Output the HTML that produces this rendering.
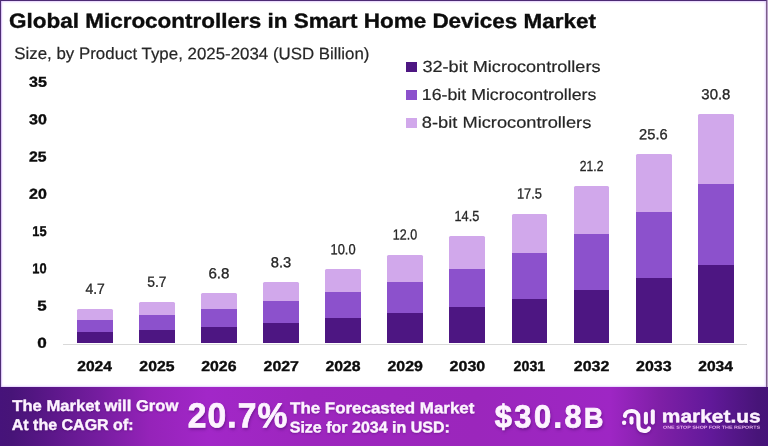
<!DOCTYPE html>
<html lang="en">
<head>
<meta charset="utf-8">
<title>Global Microcontrollers in Smart Home Devices Market</title>
<style>
html,body{margin:0;padding:0;background:#fff;}
body{width:768px;height:446px;overflow:hidden;position:relative;font-family:'Liberation Sans',sans-serif;}
.card{position:absolute;left:0;top:0;width:768px;height:446px;background:#fff;overflow:hidden;}
.frame{position:absolute;left:0;top:0;width:767px;height:387px;box-sizing:border-box;border-top:1px solid #4c2a74;border-left:1px solid #4f2e76;border-right:1px solid #7b6189;pointer-events:none;box-shadow:inset 0 0 2px 0.5px rgba(198,155,250,.68);}
.edge{position:absolute;left:767px;top:0;width:1px;height:387px;background:#ba9fca;}
.glow{position:absolute;left:1px;top:1px;width:1px;height:386px;background:rgba(196,160,240,.3);}
.t{position:absolute;white-space:nowrap;line-height:1;transform-origin:0 0;margin:0;}
.seg{position:absolute;}
.axis{position:absolute;left:63px;top:343.8px;width:684px;height:1px;background:#d9d9d9;}
.sw{position:absolute;left:406.4px;width:10.2px;height:10px;}
.banner{position:absolute;left:0;top:386.6px;width:768px;height:60px;background:linear-gradient(90deg,#46137a 0%,#471478 1.5%,#5b1789 6.5%,#761da0 13%,#9523b9 19.5%,#a227c8 27%,#9d26be 40%,#9b26bc 62%,#9e26c4 79.4%,#7e1fa6 86%,#62199a 92.4%,#471478 98.7%,#46137a 100%);}
</style>
</head>
<body>
<div class="card">
<div class="axis"></div>
<div class="bar"><div class="seg" style="left:76.8px;top:308.6px;width:35.9px;height:11.4px;background:#d1a8eb;border-radius:1.5px 1.5px 0 0"></div><div class="seg" style="left:76.8px;top:319.5px;width:35.9px;height:13.0px;background:#8c51cc"></div><div class="seg" style="left:76.8px;top:332.0px;width:35.9px;height:11.4px;background:#4d1682"></div></div>
<div class="bar"><div class="seg" style="left:138.9px;top:301.6px;width:35.9px;height:13.5px;background:#d1a8eb;border-radius:1.5px 1.5px 0 0"></div><div class="seg" style="left:138.9px;top:314.6px;width:35.9px;height:15.4px;background:#8c51cc"></div><div class="seg" style="left:138.9px;top:329.5px;width:35.9px;height:13.9px;background:#4d1682"></div></div>
<div class="bar"><div class="seg" style="left:201.0px;top:293.0px;width:35.9px;height:16.1px;background:#d1a8eb;border-radius:1.5px 1.5px 0 0"></div><div class="seg" style="left:201.0px;top:308.6px;width:35.9px;height:18.3px;background:#8c51cc"></div><div class="seg" style="left:201.0px;top:326.5px;width:35.9px;height:16.9px;background:#4d1682"></div></div>
<div class="bar"><div class="seg" style="left:263.1px;top:282.0px;width:35.9px;height:19.5px;background:#d1a8eb;border-radius:1.5px 1.5px 0 0"></div><div class="seg" style="left:263.1px;top:301.0px;width:35.9px;height:22.1px;background:#8c51cc"></div><div class="seg" style="left:263.1px;top:322.6px;width:35.9px;height:20.8px;background:#4d1682"></div></div>
<div class="bar"><div class="seg" style="left:325.2px;top:269.3px;width:35.9px;height:23.4px;background:#d1a8eb;border-radius:1.5px 1.5px 0 0"></div><div class="seg" style="left:325.2px;top:292.2px;width:35.9px;height:26.5px;background:#8c51cc"></div><div class="seg" style="left:325.2px;top:318.2px;width:35.9px;height:25.2px;background:#4d1682"></div></div>
<div class="bar"><div class="seg" style="left:387.3px;top:254.5px;width:35.9px;height:27.9px;background:#d1a8eb;border-radius:1.5px 1.5px 0 0"></div><div class="seg" style="left:387.3px;top:281.9px;width:35.9px;height:31.7px;background:#8c51cc"></div><div class="seg" style="left:387.3px;top:313.1px;width:35.9px;height:30.3px;background:#4d1682"></div></div>
<div class="bar"><div class="seg" style="left:449.4px;top:235.6px;width:35.9px;height:33.6px;background:#d1a8eb;border-radius:1.5px 1.5px 0 0"></div><div class="seg" style="left:449.4px;top:268.7px;width:35.9px;height:38.4px;background:#8c51cc"></div><div class="seg" style="left:449.4px;top:306.6px;width:35.9px;height:36.8px;background:#4d1682"></div></div>
<div class="bar"><div class="seg" style="left:511.5px;top:213.5px;width:35.9px;height:40.3px;background:#d1a8eb;border-radius:1.5px 1.5px 0 0"></div><div class="seg" style="left:511.5px;top:253.3px;width:35.9px;height:46.2px;background:#8c51cc"></div><div class="seg" style="left:511.5px;top:299.0px;width:35.9px;height:44.4px;background:#4d1682"></div></div>
<div class="bar"><div class="seg" style="left:573.6px;top:186.3px;width:35.9px;height:48.5px;background:#d1a8eb;border-radius:1.5px 1.5px 0 0"></div><div class="seg" style="left:573.6px;top:234.3px;width:35.9px;height:55.8px;background:#8c51cc"></div><div class="seg" style="left:573.6px;top:289.6px;width:35.9px;height:53.8px;background:#4d1682"></div></div>
<div class="bar"><div class="seg" style="left:635.7px;top:153.8px;width:35.9px;height:58.3px;background:#d1a8eb;border-radius:1.5px 1.5px 0 0"></div><div class="seg" style="left:635.7px;top:211.6px;width:35.9px;height:67.4px;background:#8c51cc"></div><div class="seg" style="left:635.7px;top:278.4px;width:35.9px;height:65.0px;background:#4d1682"></div></div>
<div class="bar"><div class="seg" style="left:697.8px;top:114.2px;width:35.9px;height:70.2px;background:#d1a8eb;border-radius:1.5px 1.5px 0 0"></div><div class="seg" style="left:697.8px;top:183.9px;width:35.9px;height:81.5px;background:#8c51cc"></div><div class="seg" style="left:697.8px;top:264.8px;width:35.9px;height:78.6px;background:#4d1682"></div></div>
<div class="sw" style="top:62.0px;background:#4d1682"></div>
<div class="sw" style="top:90.1px;background:#8c51cc"></div>
<div class="sw" style="top:118.1px;background:#d1a8eb"></div>
<div class="banner"></div>
<svg class="logo-icon" style="position:absolute;left:618px;top:404px;filter:drop-shadow(0 1px 1.5px rgba(60,0,90,.45))" width="42" height="32" viewBox="618 404 42 32" fill="none" stroke="#fdf3ff" stroke-width="4.1" stroke-linecap="round" stroke-linejoin="round">
<circle cx="624.1" cy="422.7" r="2.2" fill="#fdf3ff" stroke="none"/>
<path d="M624.9 416 C625.4 409.2 638.4 409.2 638.4 417 L638.4 425 C638.4 432 647.4 432.4 649 428.4"/>
<path d="M631.5 418.3 L631.5 422.6"/>
<path d="M645.9 413.7 L645.9 422.6"/>
<path d="M652.8 411.2 L652.8 422.6"/>
</svg>
<div class="t title" style="left:10px;top:10px;font-size:20.4px;font-weight:700;color:#0c0c0c;transform:matrix(1.1023,0.0005,0,1,-1.01,0.66);-webkit-text-stroke:0.35px currentColor;">Global Microcontrollers in Smart Home Devices Market</div>
<div class="t sub" style="left:15px;top:46px;font-size:16.6px;font-weight:400;color:#262626;transform:matrix(1.0170,0.0005,0,1,-0.72,0.08);-webkit-text-stroke:0.2px currentColor;">Size, by Product Type, 2025-2034 (USD Billion)</div>
<div class="t yt" style="left:37px;top:335px;font-size:14.3px;font-weight:700;color:#0c0c0c;transform:matrix(1.1974,0.0005,0,1,0.21,0.86);-webkit-text-stroke:0.35px currentColor;">0</div>
<div class="t yt" style="left:37px;top:298px;font-size:14.3px;font-weight:700;color:#0c0c0c;transform:matrix(1.1847,0.0005,0,1,0.25,0.57);-webkit-text-stroke:0.35px currentColor;">5</div>
<div class="t yt" style="left:32px;top:261px;font-size:14.3px;font-weight:700;color:#0c0c0c;transform:matrix(0.8997,0.0005,0,1,0.32,0.29);-webkit-text-stroke:0.35px currentColor;">10</div>
<div class="t yt" style="left:32px;top:224px;font-size:14.3px;font-weight:700;color:#0c0c0c;transform:matrix(0.8961,0.0005,0,1,0.34,0.00);-webkit-text-stroke:0.35px currentColor;">15</div>
<div class="t yt" style="left:29px;top:186px;font-size:14.3px;font-weight:700;color:#0c0c0c;transform:matrix(1.1177,0.0005,0,1,0.04,0.72);-webkit-text-stroke:0.35px currentColor;">20</div>
<div class="t yt" style="left:29px;top:149px;font-size:14.3px;font-weight:700;color:#0c0c0c;transform:matrix(1.1040,0.0005,0,1,0.04,0.43);-webkit-text-stroke:0.35px currentColor;">25</div>
<div class="t yt" style="left:29px;top:112px;font-size:14.3px;font-weight:700;color:#0c0c0c;transform:matrix(1.1199,0.0005,0,1,0.01,0.14);-webkit-text-stroke:0.35px currentColor;">30</div>
<div class="t yt" style="left:29px;top:74px;font-size:14.3px;font-weight:700;color:#0c0c0c;transform:matrix(1.1215,0.0005,0,1,0.01,0.86);-webkit-text-stroke:0.35px currentColor;">35</div>
<div class="t xt" style="left:77px;top:359px;font-size:14.3px;font-weight:700;color:#0c0c0c;transform:matrix(1.0923,0.0005,0,1,0.22,0.06);-webkit-text-stroke:0.35px currentColor;">2024</div>
<div class="t xt" style="left:139px;top:359px;font-size:14.3px;font-weight:700;color:#0c0c0c;transform:matrix(1.1047,0.0005,0,1,0.37,0.06);-webkit-text-stroke:0.35px currentColor;">2025</div>
<div class="t xt" style="left:201px;top:359px;font-size:14.3px;font-weight:700;color:#0c0c0c;transform:matrix(1.1110,0.0005,0,1,0.20,0.06);-webkit-text-stroke:0.35px currentColor;">2026</div>
<div class="t xt" style="left:263px;top:359px;font-size:14.3px;font-weight:700;color:#0c0c0c;transform:matrix(1.1137,0.0005,0,1,0.54,0.06);-webkit-text-stroke:0.35px currentColor;">2027</div>
<div class="t xt" style="left:325px;top:359px;font-size:14.3px;font-weight:700;color:#0c0c0c;transform:matrix(1.1048,0.0005,0,1,0.52,0.06);-webkit-text-stroke:0.35px currentColor;">2028</div>
<div class="t xt" style="left:387px;top:359px;font-size:14.3px;font-weight:700;color:#0c0c0c;transform:matrix(1.1137,0.0005,0,1,0.46,0.06);-webkit-text-stroke:0.35px currentColor;">2029</div>
<div class="t xt" style="left:450px;top:359px;font-size:14.3px;font-weight:700;color:#0c0c0c;transform:matrix(1.1202,0.0005,0,1,-0.43,0.06);-webkit-text-stroke:0.35px currentColor;">2030</div>
<div class="t xt" style="left:513px;top:359px;font-size:14.3px;font-weight:700;color:#0c0c0c;transform:matrix(0.9944,0.0005,0,1,0.62,0.06);-webkit-text-stroke:0.35px currentColor;">2031</div>
<div class="t xt" style="left:574px;top:359px;font-size:14.3px;font-weight:700;color:#0c0c0c;transform:matrix(1.1158,0.0005,0,1,-0.13,0.06);-webkit-text-stroke:0.35px currentColor;">2032</div>
<div class="t xt" style="left:636px;top:359px;font-size:14.3px;font-weight:700;color:#0c0c0c;transform:matrix(1.1148,0.0005,0,1,0.05,0.06);-webkit-text-stroke:0.35px currentColor;">2033</div>
<div class="t xt" style="left:698px;top:359px;font-size:14.3px;font-weight:700;color:#0c0c0c;transform:matrix(1.0923,0.0005,0,1,0.22,0.06);-webkit-text-stroke:0.35px currentColor;">2034</div>
<div class="t dl" style="left:85px;top:281px;font-size:14.6px;font-weight:400;color:#262626;transform:matrix(0.9560,0.0005,0,1,0.40,0.66);-webkit-text-stroke:0.3px currentColor;">4.7</div>
<div class="t dl" style="left:147px;top:274px;font-size:14.6px;font-weight:400;color:#262626;transform:matrix(0.9484,0.0005,0,1,0.24,0.86);-webkit-text-stroke:0.3px currentColor;">5.7</div>
<div class="t dl" style="left:209px;top:266px;font-size:14.6px;font-weight:400;color:#262626;transform:matrix(1.0369,0.0005,0,1,-0.59,0.16);-webkit-text-stroke:0.3px currentColor;">6.8</div>
<div class="t dl" style="left:271px;top:255px;font-size:14.6px;font-weight:400;color:#262626;transform:matrix(1.0069,0.0005,0,1,-0.16,0.26);-webkit-text-stroke:0.3px currentColor;">8.3</div>
<div class="t dl" style="left:331px;top:242px;font-size:14.6px;font-weight:400;color:#262626;transform:matrix(0.8833,0.0005,0,1,-0.50,0.36);-webkit-text-stroke:0.3px currentColor;">10.0</div>
<div class="t dl" style="left:393px;top:227px;font-size:14.6px;font-weight:400;color:#262626;transform:matrix(0.8569,0.0005,0,1,-0.17,0.46);-webkit-text-stroke:0.3px currentColor;">12.0</div>
<div class="t dl" style="left:455px;top:209px;font-size:14.6px;font-weight:400;color:#262626;transform:matrix(0.8697,0.0005,0,1,-0.48,0.06);-webkit-text-stroke:0.3px currentColor;">14.5</div>
<div class="t dl" style="left:517px;top:186px;font-size:14.6px;font-weight:400;color:#262626;transform:matrix(0.8814,0.0005,0,1,-0.11,0.56);-webkit-text-stroke:0.3px currentColor;">17.5</div>
<div class="t dl" style="left:580px;top:159px;font-size:14.6px;font-weight:400;color:#262626;transform:matrix(0.8305,0.0005,0,1,-0.21,0.06);-webkit-text-stroke:0.3px currentColor;">21.2</div>
<div class="t dl" style="left:639px;top:127px;font-size:14.6px;font-weight:400;color:#262626;transform:matrix(1.0063,0.0005,0,1,0.10,0.26);-webkit-text-stroke:0.3px currentColor;">25.6</div>
<div class="t dl" style="left:701px;top:87px;font-size:14.6px;font-weight:400;color:#262626;transform:matrix(1.0235,0.0005,0,1,0.34,0.26);-webkit-text-stroke:0.3px currentColor;">30.8</div>
<div class="t lg" style="left:423px;top:59px;font-size:16.0px;font-weight:400;color:#262626;transform:matrix(1.1318,0.0005,0,1,-0.60,0.01);-webkit-text-stroke:0.2px currentColor;">32-bit Microcontrollers</div>
<div class="t lg" style="left:423px;top:87px;font-size:16.0px;font-weight:400;color:#262626;transform:matrix(1.1094,0.0005,0,1,-1.19,0.01);-webkit-text-stroke:0.2px currentColor;">16-bit Microcontrollers</div>
<div class="t lg" style="left:422px;top:114px;font-size:16.0px;font-weight:400;color:#262626;transform:matrix(1.1410,0.0005,0,1,-0.13,0.81);-webkit-text-stroke:0.2px currentColor;">8-bit Microcontrollers</div>
<div class="t bt" style="left:12px;top:397px;font-size:15.6px;font-weight:700;color:#fdf3ff;transform:matrix(1.0643,0.0005,0,1,0.33,0.96);text-shadow:0 1px 2px rgba(60,0,90,.45);-webkit-text-stroke:0.4px currentColor;">The Market will Grow</div>
<div class="t bt" style="left:12px;top:417px;font-size:15.6px;font-weight:700;color:#fdf3ff;transform:matrix(1.0261,0.0005,0,1,-0.23,0.06);text-shadow:0 1px 2px rgba(60,0,90,.45);-webkit-text-stroke:0.4px currentColor;">At the CAGR of:</div>
<div class="t big" style="left:188px;top:398px;font-size:34.6px;font-weight:700;color:#fdf3ff;letter-spacing:1.137px;transform:matrix(0.9700,0.0005,0,1,-0.30,0.22);text-shadow:1px 2px 3px rgba(60,0,90,.5);-webkit-text-stroke:0.8px currentColor;">20.7%</div>
<div class="t bt" style="left:289px;top:400px;font-size:15.6px;font-weight:700;color:#fdf3ff;transform:matrix(1.0849,0.0005,0,1,1.08,0.26);text-shadow:0 1px 2px rgba(60,0,90,.45);-webkit-text-stroke:0.4px currentColor;">The Forecasted Market</div>
<div class="t bt" style="left:290px;top:419px;font-size:15.6px;font-weight:700;color:#fdf3ff;transform:matrix(1.0266,0.0005,0,1,-0.29,0.46);text-shadow:0 1px 2px rgba(60,0,90,.45);-webkit-text-stroke:0.4px currentColor;">Size for 2034 in USD:</div>
<div class="t big" style="left:495px;top:400px;font-size:32.2px;font-weight:700;color:#fdf3ff;letter-spacing:2.507px;transform:matrix(0.9600,0.0005,0,1,-0.27,0.52);text-shadow:1px 2px 3px rgba(60,0,90,.5);-webkit-text-stroke:0.8px currentColor;">$30.8<span style="font-size:28px">B</span></div>
<div class="t logo" style="left:663px;top:407px;font-size:18.0px;font-weight:700;color:#fdf3ff;transform:matrix(1.1639,0.0005,0,1,-1.21,0.36);text-shadow:0 1px 2px rgba(60,0,90,.45);-webkit-text-stroke:0.4px currentColor;">market.us</div>
<div class="t tag" style="left:663px;top:425px;font-size:4.4px;font-weight:700;color:rgba(246,190,246,.88);transform:matrix(1.2278,0.0005,0,1,-0.01,0.70);">ONE STOP SHOP FOR THE REPORTS</div>
<div class="frame"></div>
<div class="edge"></div>
<div class="glow"></div>
</div>
</body>
</html>
